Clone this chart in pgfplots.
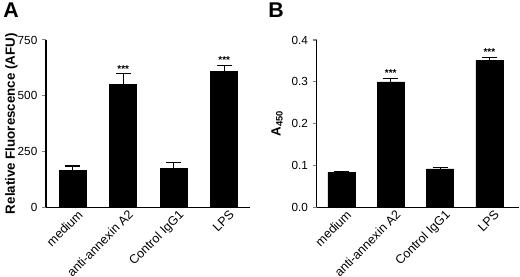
\documentclass[border=0pt]{standalone}
\usepackage{pgfplots}
\pgfplotsset{compat=1.18}
\usepackage{fontspec}
\setmainfont{Liberation Sans}
\begin{document}
\begin{tikzpicture}
\useasboundingbox (0pt,0pt) rectangle (390pt,207.75pt);
\pgfplotsset{
  myax/.style={
    scale only axis,
    height=125.5pt,
    axis x line*=bottom,
    axis y line*=left,
    axis line style={line width=1pt},
    xtick=data,
    xticklabels={medium,anti-annexin A2,Control IgG1,LPS},
    x tick label style={rotate=45,anchor=north east,font=\fontsize{9.4}{10}\selectfont,inner sep=1pt,xshift=4.5pt},
    y tick label style={font=\fontsize{8.8}{10}\selectfont},
    major x tick style={draw=none},
    major y tick style={line width=0.8pt},
    tick align=outside,
    major tick length=3pt,
    ymin=0,
    /pgf/number format/assume math mode=true,
    clip=false,
  },
  mybar/.style={
    ybar, fill=black, draw=black, bar width=20.25pt,
    error bars/.cd, y dir=plus, y explicit,
    error bar style={line width=0.8pt},
    error mark options={rotate=90, mark size=5.6pt, line width=0.8pt},
  },
  stars/.style={
    draw=none, mark=none, only marks,
    nodes near coords={***},
    nodes near coords style={anchor=south, font=\fontsize{7.5}{8}\selectfont\bfseries, inner sep=0.5pt, yshift=0pt},
  },
}
\begin{axis}[myax,
  at={(34.5pt,52.275pt)}, anchor=south west,
  width=153pt,
  xmin=-0.53, xmax=3.51,
  ymax=750, ytick={0,250,500,750},
  ylabel={\bfseries Relative Fluorescence (AFU)},
  ylabel style={font=\fontsize{10}{11}\selectfont, at={(axis description cs:-0.17,0.5)}, anchor=center},
]
\addplot[mybar] coordinates {
  (0,167) +- (0,18)
  (1,551) +- (0,48)
  (2,175) +- (0,24)
  (3,608) +- (0,28)
};
\addplot[stars] coordinates {(1,602) (3,639)};
\end{axis}
\node[font=\fontsize{16}{18}\selectfont\bfseries, anchor=north west, inner sep=0pt] at (2.25pt,205.5pt) {A};
\begin{axis}[myax,
  at={(237.525pt,52.275pt)}, anchor=south west,
  width=151.7pt,
  xmin=-0.5, xmax=3.6,
  ymax=0.4, ytick={0,0.1,0.2,0.3,0.4},
  yticklabel style={/pgf/number format/.cd, fixed, fixed zerofill, precision=1},
  ylabel={\bfseries A\textsubscript{450}},
  ylabel style={font=\fontsize{10}{11}\selectfont, at={(axis description cs:-0.196,0.5)}, anchor=center},
]
\addplot[mybar] coordinates {
  (0,0.0837) +- (0,0.0025)
  (1,0.2996) +- (0,0.0075)
  (2,0.0916) +- (0,0.0025)
  (3,0.351) +- (0,0.007)
};
\addplot[stars] coordinates {(1,0.31) (3,0.361)};
\end{axis}
\node[font=\fontsize{16}{18}\selectfont\bfseries, anchor=north west, inner sep=0pt] at (201pt,205.5pt) {B};
\end{tikzpicture}
\end{document}
